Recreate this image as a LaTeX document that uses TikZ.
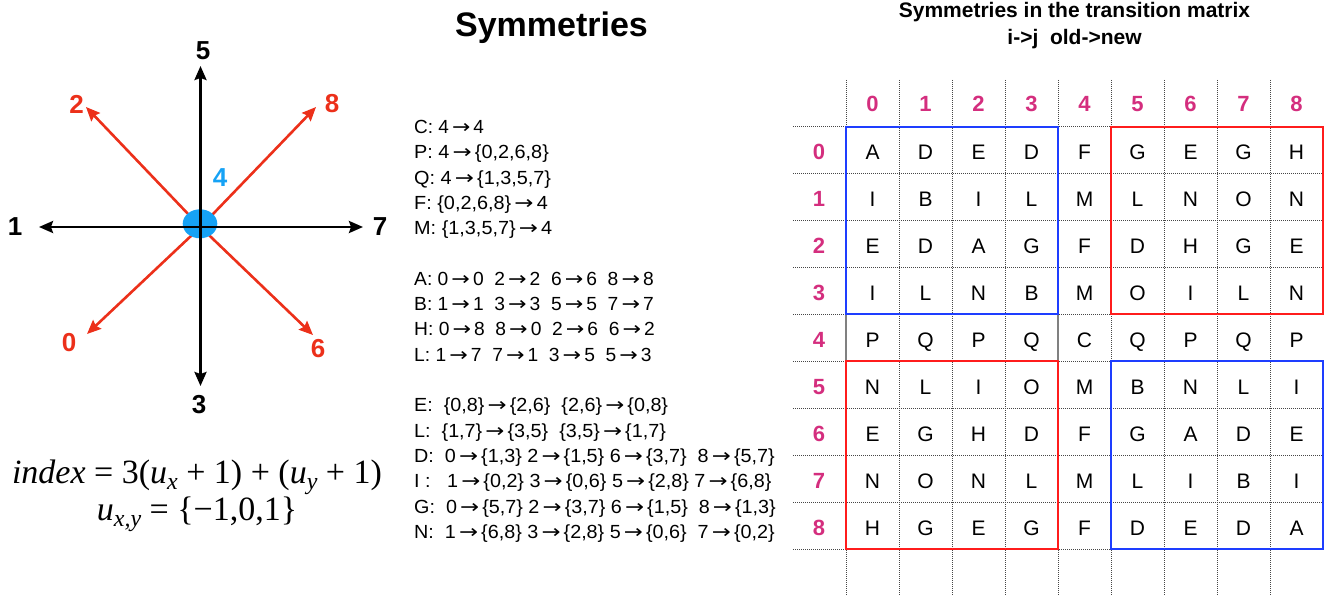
\documentclass[tikz,border=0pt]{standalone}
\usepackage{fontspec}
\usepackage{graphicx}
\setmainfont{Liberation Sans}
\newfontfamily\tms{Liberation Serif}
\newfontfamily\arrf{DejaVu Sans}
\usetikzlibrary{arrows.meta}
\definecolor{redA}{RGB}{236,48,26}
\definecolor{blueA}{RGB}{22,162,245}
\definecolor{magA}{RGB}{212,46,126}
\definecolor{boxB}{RGB}{30,62,255}
\definecolor{boxR}{RGB}{255,28,28}
\definecolor{gridC}{RGB}{70,70,70}
\newcommand{\fsz}[1]{\fontsize{#1}{#1}\selectfont}
\newcommand{\msub}[1]{\raisebox{-0.18em}{\fontsize{24}{24}\selectfont\itshape #1}}
\newcommand{\ra}{\makebox[1.28em]{\scalebox{1.15}[1]{\arrf →}}}
\begin{document}
\begin{tikzpicture}[x=1pt,y=-1pt,
  dirlbl/.style={font=\fsz{26}\bfseries, inner sep=0pt},
  blackarr/.style={line width=2.6pt, black, {Stealth[length=14pt,width=12pt,inset=2pt]}-{Stealth[length=14pt,width=12pt,inset=2pt]}},
  redarr/.style={line width=2.6pt, redA, -{Stealth[length=14pt,width=12pt,inset=2pt]}},
  symline/.style={font=\fsz{19}, anchor=base west, inner sep=0pt},
  cell/.style={font=\fsz{21}, anchor=base, inner sep=0pt},
  hdr/.style={font=\fsz{22}\bfseries, text=magA, anchor=base, inner sep=0pt},
  gridline/.style={gridC, line width=0.9pt, dash pattern=on 1pt off 1pt},
  bluebox/.style={boxB, line width=2.2pt},
  redbox/.style={boxR, line width=2.2pt},
  eq/.style={font=\fsz{34}\tms, anchor=base, inner sep=0pt}
]
\useasboundingbox (0,0) rectangle (1341,596);

% ---------------- left: directions ----------------
\coordinate (ctr) at (200.5,227);
\coordinate (tW) at (39,227);
\coordinate (tE) at (363,227);
\coordinate (tN) at (200.5,66);
\coordinate (tS) at (200.5,386);
\coordinate (tNW) at (86,107);
\coordinate (tNE) at (316,107);
\coordinate (tSW) at (87,334);
\coordinate (tSE) at (313,335);
\draw[redarr] (ctr) -- (tNW);
\draw[redarr] (ctr) -- (tNE);
\draw[redarr] (ctr) -- (tSW);
\draw[redarr] (ctr) -- (tSE);
\fill[blueA] (200,223.8) ellipse [x radius=17.3, y radius=14.5];
\draw[blackarr] (tW) -- (tE);
\draw[blackarr] (tS) -- (tN);
\node[dirlbl] (l5) at (203,50.7) {5};
\node[dirlbl] (l3) at (199,405) {3};
\node[dirlbl] (l1) at (15,227) {1};
\node[dirlbl] (l7) at (380,227) {7};
\node[dirlbl, text=redA] (l2) at (76.7,104) {2};
\node[dirlbl, text=redA] (l8) at (332,104) {8};
\node[dirlbl, text=redA] (l0) at (69,342.7) {0};
\node[dirlbl, text=redA] (l6) at (318,349) {6};
\node[dirlbl, text=blueA] (l4) at (220,178) {4};

\node[eq] (eq1) at (197,483) {\itshape index\upshape\ = 3(\itshape u\upshape\msub{x} + 1) + (\itshape u\upshape\msub{y} + 1)};
\node[eq] (eq2) at (197,520) {\itshape u\upshape\msub{x,y} = \{−1,0,1\}};

% ---------------- middle ----------------
\node[font=\fsz{34}\bfseries, anchor=base, inner sep=0pt] (title) at (551.5,37) {Symmetries};
\foreach \yb/\sc/\txt [count=\i] in {
 133.5/1.0/{C: 4\ra4},
 158.8/1.045/{P: 4\ra\{0,2,6,8\}},
 184.1/1.045/{Q: 4\ra\{1,3,5,7\}},
 209.4/1.045/{F: \{0,2,6,8\}\ra4},
 234.7/1.045/{M: \{1,3,5,7\}\ra4},
 285.3/1.012/{A: 0\ra0~~2\ra2~~6\ra6~~8\ra8},
 310.6/1.012/{B: 1\ra1~~3\ra3~~5\ra5~~7\ra7},
 335.9/1.012/{H: 0\ra8~~8\ra0~~2\ra6~~6\ra2},
 361.2/1.012/{L: 1\ra7~~7\ra1~~3\ra5~~5\ra3},
 411.8/1.04/{E:~~\{0,8\}\ra\{2,6\}~~\{2,6\}\ra\{0,8\}},
 437.1/1.04/{L:~~\{1,7\}\ra\{3,5\}~~\{3,5\}\ra\{1,7\}},
 462.4/1.04/{D:~~0\ra\{1,3\} 2\ra\{1,5\} 6\ra\{3,7\}~~8\ra\{5,7\}},
 487.7/1.04/{I :~~~1\ra\{0,2\} 3\ra\{0,6\} 5\ra\{2,8\} 7\ra\{6,8\}},
 513.0/1.04/{G:~~0\ra\{5,7\} 2\ra\{3,7\} 6\ra\{1,5\}~~8\ra\{1,3\}},
 538.3/1.04/{N:~~1\ra\{6,8\} 3\ra\{2,8\} 5\ra\{0,6\}~~7\ra\{0,2\}}}
 { \node[symline] (sym\i) at (414,\yb) {\scalebox{\sc}[1]{\txt}}; }

% ---------------- right: table ----------------
\node[font=\fsz{21}\bfseries, anchor=base, inner sep=0pt] (tt1) at (1074.5,17.5) {Symmetries in the transition matrix};
\node[font=\fsz{21}\bfseries, anchor=base, inner sep=0pt] (tt2) at (1074.5,45) {i->j~~old->new};

\foreach \k in {0,...,8} { \draw[gridline] ({846+53*\k},80) -- ({846+53*\k},596); }
\foreach \r in {0,...,9} { \draw[gridline] (793,{126.7+47*\r}) -- (1323,{126.7+47*\r}); }
\draw[gray, line width=1.2pt] (846,314.3) -- (846,361.3);
\draw[gray, line width=1.2pt] (1058,314.3) -- (1058,361.3);
\draw[bluebox] (846,126.7) rectangle (1058,314.3);
\draw[redbox] (1111,126.7) rectangle (1323,314.3);
\draw[redbox] (846,361.3) rectangle (1058,549);
\draw[bluebox] (1111,361.3) rectangle (1323,549);

\foreach \k in {0,...,8} {
  \node[hdr] (ch\k) at ({872.5+53*\k},111.7) {\k};
  \node[hdr] (rh\k) at (819,{159.3+47*\k}) {\k};
}
\foreach \row [count=\r from 0] in {
 {A,D,E,D,F,G,E,G,H},
 {I,B,I,L,M,L,N,O,N},
 {E,D,A,G,F,D,H,G,E},
 {I,L,N,B,M,O,I,L,N},
 {P,Q,P,Q,C,Q,P,Q,P},
 {N,L,I,O,M,B,N,L,I},
 {E,G,H,D,F,G,A,D,E},
 {N,O,N,L,M,L,I,B,I},
 {H,G,E,G,F,D,E,D,A}} {
  \foreach \c [count=\k from 0] in \row {
    \node[cell] (m\r\k) at ({872.5+53*\k},{159.3+47*\r}) {\c};
  }
}
\end{tikzpicture}
\end{document}
